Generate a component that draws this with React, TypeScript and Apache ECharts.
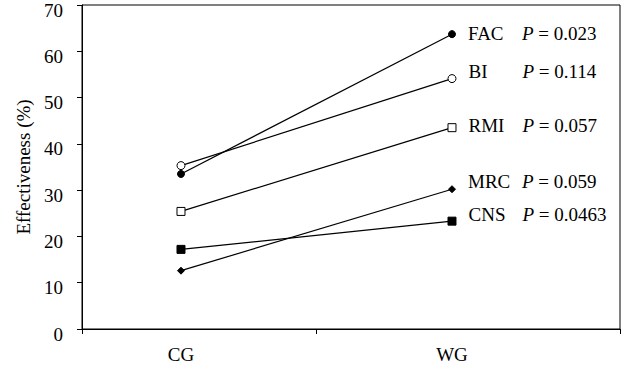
import React, { useEffect, useRef } from "react";
import * as echarts from "echarts";

const categories = ["CG", "WG"];
const seriesNames = ["FAC", "BI", "RMI", "MRC", "CNS"];
const FAC = [33.5, 63.7];
const BI = [35.3, 54.1];
const RMI = [25.4, 43.5];
const MRC = [12.6, 30.2];
const CNS = [17.2, 23.3];
const pValues = ["0.023", "0.114", "0.057", "0.059", "0.0463"];
const yTicks = [0, 10, 20, 30, 40, 50, 60, 70];

const FONT = "Liberation Serif";

export default function App() {
  const ref = useRef<HTMLDivElement>(null);
  useEffect(() => {
    if (!ref.current) return;
    const chart = echarts.init(ref.current, null, { renderer: "svg" });
    const values = [FAC, BI, RMI, MRC, CNS];
    const markers = [
      { symbol: "circle", size: 7, fill: "#000", dy: -1 },
      { symbol: "circle", size: 8, fill: "#fff", dy: -7 },
      { symbol: "rect", size: 8, fill: "#fff", dy: -2 },
      { symbol: "diamond", size: 7, fill: "#000", dy: -8 },
      { symbol: "rect", size: 8, fill: "#000", dy: -7 },
    ];
    const xMin = -0.3653;
    const xMax = 1.62;
    const series = seriesNames.map((name, si) => ({
      type: "line",
      name,
      data: categories.map((c, i) => ({
        value: [i, values[si][i]],
        label:
          i === categories.length - 1
            ? {
                show: true,
                position: "right",
                distance: 12,
                offset: [0, markers[si].dy],
                formatter: `{n|${name}}{p|P}{t| = ${pValues[si]}}`,
                rich: {
                  n: { width: 54, fontSize: 19, fontFamily: FONT, color: "#000" },
                  p: { fontSize: 19, fontFamily: FONT, fontStyle: "italic", color: "#000" },
                  t: { fontSize: 19, fontFamily: FONT, color: "#000" },
                },
              }
            : { show: false },
      })),
      symbol: markers[si].symbol,
      symbolSize: markers[si].size,
      showSymbol: true,
      lineStyle: { color: "#000", width: 1.2 },
      itemStyle: { color: markers[si].fill, borderColor: "#000", borderWidth: 1 },
      emphasis: { disabled: true },
    }));
    chart.setOption({
      animation: false,
      textStyle: { fontFamily: FONT },
      grid: {
        left: 82,
        right: 8,
        top: 5,
        bottom: 41,
        outerBoundsMode: "none",
        containLabel: false,
        show: true,
        borderColor: "#000",
        borderWidth: 1,
        backgroundColor: "transparent",
      },
      xAxis: {
        type: "value",
        min: xMin,
        max: xMax,
        splitLine: { show: false },
        axisLine: { onZero: false, lineStyle: { color: "#000", width: 1 } },
        axisTick: {
          show: true,
          length: 5,
          customValues: [xMin, 0.5, xMax],
          lineStyle: { color: "#000" },
        },
        axisLabel: {
          customValues: categories.map((c, i) => i),
          formatter: (v: number) => categories[Math.round(v)] ?? "",
          color: "#000",
          fontSize: 19,
          fontFamily: FONT,
          margin: 16,
        },
      },
      yAxis: {
        type: "value",
        min: yTicks[0],
        max: yTicks[yTicks.length - 1],
        interval: 10,
        name: "Effectiveness (%)",
        nameLocation: "middle",
        nameGap: 48,
        nameRotate: 90,
        nameTextStyle: { color: "#000", fontSize: 19, fontFamily: FONT },
        splitLine: { show: false },
        axisLine: { show: true, onZero: false, lineStyle: { color: "#000", width: 1 } },
        axisTick: { show: true, length: 5, lineStyle: { color: "#000" } },
        axisLabel: {
          color: "#000",
          fontSize: 19,
          fontFamily: FONT,
          margin: 19,
          verticalAlign: "top",
          lineHeight: 10,
        },
      },
      series,
    });
    return () => chart.dispose();
  }, []);
  return <div ref={ref} style={{ width: 628, height: 370, position: "absolute", left: 0, top: 0 }} />;
}
